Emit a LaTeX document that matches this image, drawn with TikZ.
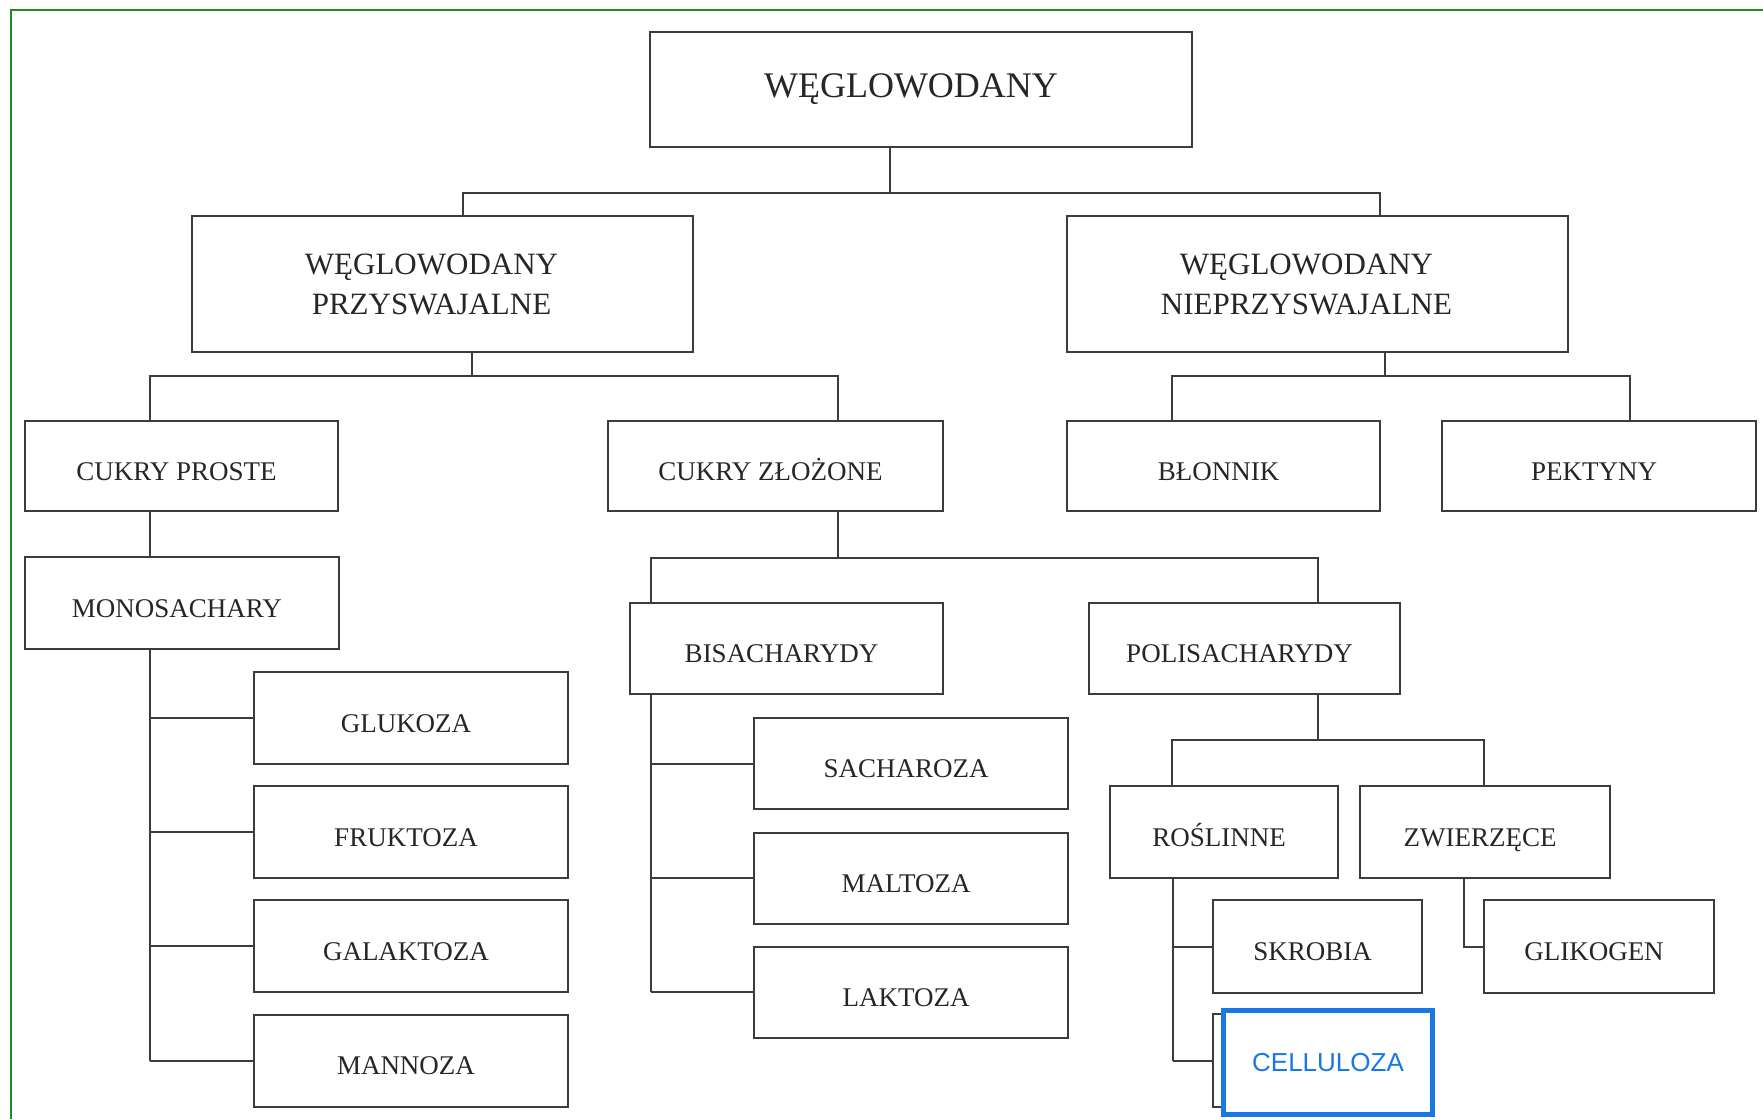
\documentclass[tikz,border=0pt]{standalone}
\usepackage{fontspec}
\setmainfont{Liberation Serif}
\newfontfamily\pickfont{Liberation Sans}
\usepackage{xcolor}
\definecolor{linegray}{HTML}{3C3C3C}
\definecolor{framegreen}{HTML}{1E8C1E}
\definecolor{pickblue}{HTML}{1778E6}
\newcommand\pad[1]{#1\hspace*{22pt}}
\tikzset{x=1pt, y=-1pt,
 base/.style={draw=linegray, line width=2pt, text=black!85, inner sep=0pt},
 box/.style={base, font=\fontsize{27}{32}\selectfont, text height=28pt,
  text depth=0pt, execute at end node={\hspace*{10pt}}},
 midbox/.style={base, font=\fontsize{31}{40}\selectfont, align=center},
 topbox/.style={base, font=\fontsize{36}{42}\selectfont,
  execute at end node={\hspace*{20pt}}},
 chosen/.style={draw=pickblue, line width=5pt, fill=white, text=pickblue,
  inner sep=0pt, font=\pickfont\fontsize{26}{30}\selectfont},
 link/.style={draw=linegray, line width=2pt},
 frame/.style={draw=framegreen, line width=2.5pt},
 }

\begin{document}
\begin{tikzpicture}
    \useasboundingbox (0,0) rectangle (1763,1119);
    \fill[white] (0,0) rectangle (1763,1119);
    \draw[frame] (1763,10) -- (11,10) -- (11,1119);

    % levels 0 and 1
    \node[topbox, minimum width=542pt, minimum height=115pt] (wegl) at (921,89.5) {WĘGLOWODANY};
    \node[midbox, minimum width=501pt, minimum height=136pt] (przysw) at (442.5,284) {\pad{WĘGLOWODANY}\\\pad{PRZYSWAJALNE}};
    \node[midbox, minimum width=501pt, minimum height=136pt] (nieprz) at (1317.5,284) {\pad{WĘGLOWODANY}\\\pad{NIEPRZYSWAJALNE}};

    % level 2
    \node[box, minimum width=313pt, minimum height=90pt] (cproste) at (181.5,466) {CUKRY PROSTE};
    \node[box, minimum width=335pt, minimum height=90pt] (czloz) at (775.5,466) {CUKRY ZŁOŻONE};
    \node[box, minimum width=313pt, minimum height=90pt] (blon) at (1223.5,466) {BŁONNIK};
    \node[box, minimum width=314pt, minimum height=90pt] (pekt) at (1599,466) {PEKTYNY};

    % level 3
    \node[box, minimum width=314pt, minimum height=92pt] (mono) at (182,603) {MONOSACHARY};
    \node[box, minimum width=313pt, minimum height=91pt] (bisach) at (786.5,648.5) {BISACHARYDY};
    \node[box, minimum width=311pt, minimum height=91pt] (polisach) at (1244.5,648.5) {POLISACHARYDY};

    % monosacharydy
    \node[box, minimum width=314pt, minimum height=92pt] (gluk) at (411,718) {GLUKOZA};
    \node[box, minimum width=314pt, minimum height=92pt] (fruk) at (411,832) {FRUKTOZA};
    \node[box, minimum width=314pt, minimum height=92pt] (galak) at (411,946) {GALAKTOZA};
    \node[box, minimum width=314pt, minimum height=92pt] (manno) at (411,1060.5) {MANNOZA};

    % bisacharydy
    \node[box, minimum width=314pt, minimum height=91pt] (sach) at (911,763.5) {SACHAROZA};
    \node[box, minimum width=314pt, minimum height=91pt] (malt) at (911,878) {MALTOZA};
    \node[box, minimum width=314pt, minimum height=91pt] (lakt) at (911,992) {LAKTOZA};

    % polisacharydy
    \node[box, minimum width=228pt, minimum height=92pt] (rosl) at (1224,832) {ROŚLINNE};
    \node[box, minimum width=250pt, minimum height=92pt] (zwierz) at (1485,832) {ZWIERZĘCE};
    \node[box, minimum width=209pt, minimum height=93pt] (skrob) at (1317.5,946.5) {SKROBIA};
    \node[box, minimum width=209pt, minimum height=93pt] (cellu) at (1317.5,1060.5) {};
    \node[box, minimum width=230pt, minimum height=93pt] (glik) at (1599,946.5) {GLIKOGEN};
    \node[chosen, minimum width=209pt, minimum height=104pt] (cellub) at (1328,1062.5) {CELLULOZA};

    % buses
    \coordinate (b1) at (890,193);
    \coordinate (b2) at (472,376);
    \coordinate (b3) at (1385,376);
    \coordinate (b4) at (838,558);
    \coordinate (b5) at (1318,740);
    \draw[link] (b1 |- wegl.south) -- (b1) -| ([xshift=20.5pt]przysw.north);
    \draw[link] (b1) -| ([xshift=62.5pt]nieprz.north);
    \draw[link] (b2 |- przysw.south) -- (b2) -| ([xshift=-31.5pt]cproste.north);
    \draw[link] (b2) -| ([xshift=62.5pt]czloz.north);
    \draw[link] (b3 |- nieprz.south) -- (b3) -| ([xshift=-51.5pt]blon.north);
    \draw[link] (b3) -| ([xshift=31pt]pekt.north);
    \draw[link] (b4 |- czloz.south) -- (b4) -| ([xshift=-135.5pt]bisach.north);
    \draw[link] (b4) -| ([xshift=73.5pt]polisach.north);
    \draw[link] (b5 |- polisach.south) -- (b5) -| ([xshift=-52pt]rosl.north);
    \draw[link] (b5) -| ([xshift=-1pt]zwierz.north);

    % spines
    \coordinate (s1) at (150,649);
    \coordinate (s2) at (651,694);
    \coordinate (s3) at (1173,878);
    \coordinate (s4) at (1464,878);
    \draw[link] (s1 |- cproste.south) -- (s1 |- mono.north);
    \draw[link] (s1) -- (s1 |- manno.west);
    \foreach \n in {gluk,fruk,galak,manno}
        \draw[link] (s1 |- \n.west) -- (\n.west);
    \draw[link] (s2) -- (s2 |- lakt.west);
    \foreach \n in {sach,malt,lakt}
        \draw[link] (s2 |- \n.west) -- (\n.west);
    \draw[link] (s3) -- (s3 |- cellu.west);
    \foreach \n in {skrob,cellu}
        \draw[link] (s3 |- \n.west) -- (\n.west);
    \draw[link] (s4) |- (glik.west);
\end{tikzpicture}
\end{document}
